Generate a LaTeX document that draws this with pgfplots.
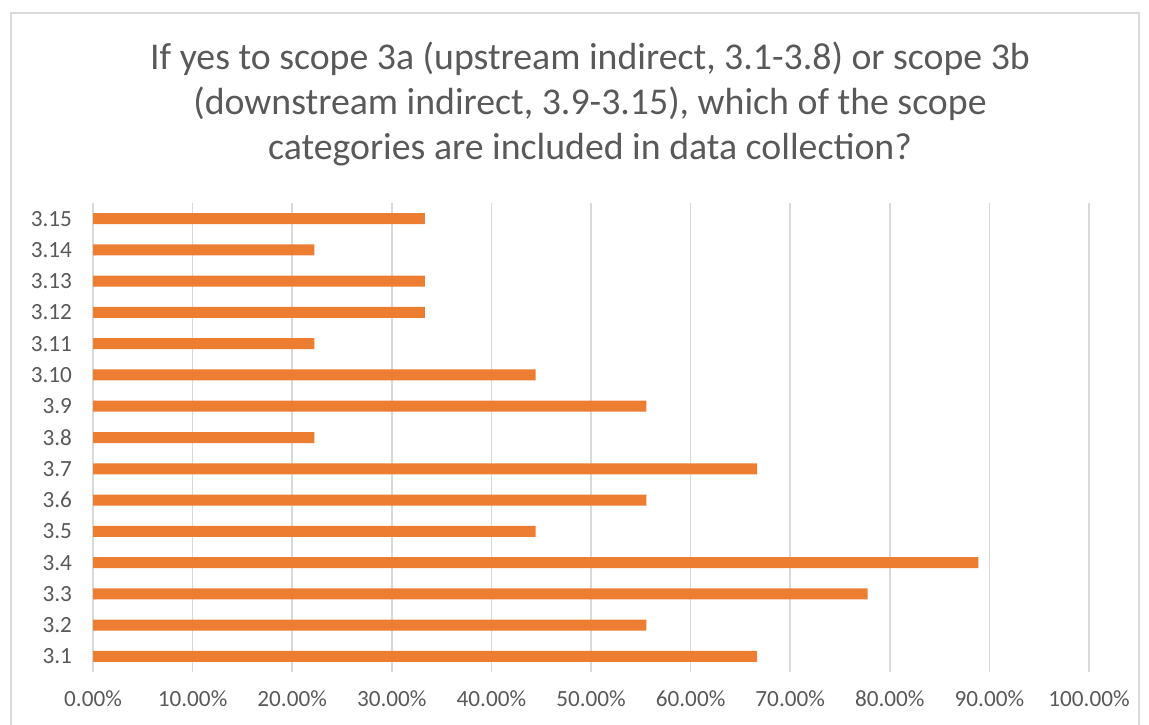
\documentclass[border=0pt]{standalone}
\usepackage{pgfplots}
\pgfplotsset{compat=1.18}
\usepackage{fontspec}
\setmainfont{Carlito}
\definecolor{barorange}{HTML}{ED7D31}
\definecolor{txtgray}{HTML}{595959}
\definecolor{gridgray}{HTML}{D9D9D9}
\begin{document}
\begin{tikzpicture}[x=0.5pt,y=0.5pt]
\useasboundingbox (0,0) rectangle (1149,724);
\draw[gridgray, line width=1pt] (11,-20) -- (11,711) -- (1139,711) -- (1139,-20);
\node[align=center, text=txtgray, font=\fontsize{18.9}{22.5}\selectfont, anchor=north] at (590,689)
  {If yes to scope 3a (upstream indirect, 3.1-3.8) or scope 3b\\(downstream indirect, 3.9-3.15), which of the scope\\categories are included in data collection?};
\begin{axis}[
  at={(46.5pt,26pt)}, anchor=south west,
  scale only axis, width=498pt, height=234.5pt,
  xbar, bar width=5.5pt,
  xmin=0, xmax=100, ymin=-0.5, ymax=14.5,
  axis line style={draw=none},
  xtick={0,10,...,100},
  xticklabels={0.00\%,10.00\%,20.00\%,30.00\%,40.00\%,50.00\%,60.00\%,70.00\%,80.00\%,90.00\%,100.00\%},
  ytick={0,...,14},
  yticklabels={3.1,3.2,3.3,3.4,3.5,3.6,3.7,3.8,3.9,3.10,3.11,3.12,3.13,3.14,3.15},
  major tick length=0pt,
  xmajorgrids, grid style={gridgray, line width=0.75pt},
  ymajorgrids=false,
  xticklabel style={font=\fontsize{11.6}{13}\selectfont, text=txtgray, yshift=-6pt},
  yticklabel style={font=\fontsize{11.6}{13}\selectfont, text=txtgray, xshift=-7pt},
  clip=false,
]
\addplot[draw=none, fill=barorange] coordinates {
(66.67,0) (55.56,1) (77.78,2) (88.89,3) (44.44,4) (55.56,5) (66.67,6) (22.22,7)
(55.56,8) (44.44,9) (22.22,10) (33.33,11) (33.33,12) (22.22,13) (33.33,14)};
\end{axis}
\end{tikzpicture}
\end{document}
